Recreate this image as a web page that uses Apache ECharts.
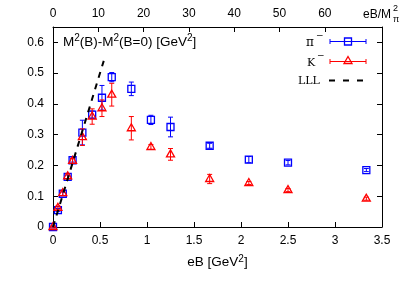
<!DOCTYPE html>
<html><head><meta charset="utf-8">
<script src="https://cdn.jsdelivr.net/npm/echarts@6/dist/echarts.min.js"></script>
<style>html,body{margin:0;padding:0;background:#fff}#c{width:407px;height:285px}</style>
</head><body><div id="c"></div>
<script>
// ---- data ----
const eB      = [0, 0.0521, 0.1042, 0.1563, 0.2083, 0.3125, 0.4167, 0.5208, 0.625, 0.8333, 1.0417, 1.25, 1.6667, 2.0833, 2.5, 3.3333];
const piVal   = [0, 0.055, 0.108, 0.163, 0.217, 0.307, 0.365, 0.420, 0.487, 0.449, 0.348, 0.325, 0.264, 0.219, 0.209, 0.185];
const piErr   = [0.003, 0.005, 0.006, 0.006, 0.006, 0.040, 0.012, 0.040, 0.015, 0.022, 0.015, 0.032, 0.008, 0.010, 0.007, 0.005];
const kVal    = [0, 0.062, 0.110, 0.165, 0.215, 0.292, 0.359, 0.386, 0.430, 0.321, 0.260, 0.236, 0.156, 0.143, 0.120, 0.092];
const kErr    = [0.003, 0.006, 0.008, 0.008, 0.008, 0.027, 0.025, 0.027, 0.037, 0.038, 0.008, 0.019, 0.015, 0.005, 0.005, 0.005];
const lllX    = [0, 0.54];
const lllY    = [0, 0.54];
const mpi2    = 0.0482;           // GeV^2, top-axis conversion
const xTicks  = [0, 0.5, 1, 1.5, 2, 2.5, 3, 3.5];
const x2Ticks = [0, 10, 20, 30, 40, 50, 60];
const yTicks  = [0, 0.1, 0.2, 0.3, 0.4, 0.5, 0.6];

const SANS = 'Liberation Sans, Arial, sans-serif';
const SERIF = 'DejaVu Serif, serif';
const BLUE = '#0000ff', RED = '#ff0000';

function errRender(color, shape){
  return function(params, api){
    const x = api.value(0), y = api.value(1), e = api.value(2);
    const c = api.coord([x, y]), t = api.coord([x, y + e]), b = api.coord([x, y - e]);
    const w = 2.5;
    const ls = {stroke: color, lineWidth: 1};
    const ch = [
      {type:'line', shape:{x1:c[0], y1:t[1], x2:c[0], y2:b[1]}, style:ls},
      {type:'line', shape:{x1:c[0]-w, y1:t[1], x2:c[0]+w, y2:t[1]}, style:ls},
      {type:'line', shape:{x1:c[0]-w, y1:b[1], x2:c[0]+w, y2:b[1]}, style:ls}
    ];
    if (shape === 'square') {
      ch.push({type:'rect', shape:{x:c[0]-3.5, y:c[1]-3.5, width:7, height:7}, style:{stroke:color, fill:'none', lineWidth:1.3}});
    } else {
      ch.push({type:'polygon', shape:{points:[[c[0], c[1]-4.5], [c[0]-4, c[1]+2.5], [c[0]+4, c[1]+2.5]]}, style:{stroke:color, fill:'none', lineWidth:1.3}});
    }
    return {type:'group', children: ch};
  };
}

const richSans = {
  a: {fontSize: 13.5, fontFamily: SANS, color: '#000', lineHeight: 17},
  s: {fontSize: 10, fontFamily: SANS, color: '#000', lineHeight: 11, verticalAlign: 'top'}
};
const axisCommon = {
  axisLine: {show: true, onZero: false, lineStyle: {color: '#000', width: 1}},
  splitLine: {show: false}
};

const option = {
  animation: false,
  backgroundColor: '#fff',
  grid: {left: 53, right: 25, top: 27, bottom: 58},
  xAxis: [
    Object.assign({
      type: 'value', min: 0, max: 3.5, position: 'bottom',
      axisTick: {inside: true, length: 5, lineStyle: {color: '#000'}, customValues: xTicks},
      axisLabel: {color: '#000', fontSize: 12, fontFamily: SANS, margin: 8, customValues: xTicks},
      name: '{a|eB [GeV}{s|2}{a|]}', nameLocation: 'middle', nameGap: 27,
      nameTextStyle: {rich: richSans}
    }, axisCommon),
    Object.assign({
      type: 'value', min: 0, max: 3.5 / mpi2, position: 'top',
      axisTick: {inside: true, length: 5, lineStyle: {color: '#000'}, customValues: x2Ticks},
      axisLabel: {color: '#000', fontSize: 12, fontFamily: SANS, margin: 7, customValues: x2Ticks}
    }, axisCommon)
  ],
  yAxis: [
    Object.assign({
      type: 'value', min: 0, max: 0.65, position: 'left',
      axisTick: {inside: true, length: 5, lineStyle: {color: '#000'}, customValues: yTicks},
      axisLabel: {color: '#000', fontSize: 12, fontFamily: SANS, margin: 9, customValues: yTicks}
    }, axisCommon),
    Object.assign({
      type: 'value', min: 0, max: 0.65, position: 'right',
      axisTick: {inside: true, length: 5, lineStyle: {color: '#000'}, customValues: yTicks},
      axisLabel: {show: false}
    }, axisCommon)
  ],
  series: [
    {type: 'custom', name: 'pi', xAxisIndex: 0, yAxisIndex: 0, clip: false, z: 2,
     renderItem: errRender(BLUE, 'square'),
     data: eB.map((x, i) => [x, piVal[i], piErr[i]])},
    {type: 'custom', name: 'K', xAxisIndex: 0, yAxisIndex: 0, clip: false, z: 3,
     renderItem: errRender(RED, 'triangle'),
     data: eB.map((x, i) => [x, kVal[i], kErr[i]])},
    {type: 'line', name: 'LLL', xAxisIndex: 0, yAxisIndex: 0, z: 4, symbol: 'none',
     lineStyle: {color: '#000', width: 2, type: [6, 6]},
     data: lllX.map((x, i) => [x, lllY[i]])}
  ],
  graphic: [
    // y-axis title inside plot
    {type: 'text', x: 63, y: 42, z: 10,
     style: {text: '{a|M}{s|2}{a|(B)-M}{s|2}{a|(B=0) [GeV}{s|2}{a|]}', rich: richSans,
             align: 'left', verticalAlign: 'middle', textAlign: 'left', textVerticalAlign: 'middle'}},
    // top-axis title
    {type: 'text', x: 363, y: 15, z: 10,
     style: {text: 'eB/M', font: '12px ' + SANS, fill: '#000', align: 'left', verticalAlign: 'middle', textAlign: 'left', textVerticalAlign: 'middle'}},
    {type: 'text', x: 393, y: 9, z: 10,
     style: {text: '2', font: '9px ' + SANS, fill: '#000', align: 'left', verticalAlign: 'middle', textAlign: 'left', textVerticalAlign: 'middle'}},
    {type: 'text', x: 393, y: 20, z: 10,
     style: {text: 'π', font: '9px ' + SANS, fill: '#000', align: 'left', verticalAlign: 'middle', textAlign: 'left', textVerticalAlign: 'middle'}},
    // legend: pi-
    {type: 'text', x: 306, y: 43, z: 10,
     style: {text: 'π', font: '12px ' + SERIF, fill: '#000', align: 'left', verticalAlign: 'middle', textAlign: 'left', textVerticalAlign: 'middle'}},
    {type: 'text', x: 316, y: 36, z: 10,
     style: {text: '−', font: '9px ' + SERIF, fill: '#000', align: 'left', verticalAlign: 'middle', textAlign: 'left', textVerticalAlign: 'middle'}},
    {type: 'line', z: 10, shape: {x1: 330, y1: 41.5, x2: 366, y2: 41.5}, style: {stroke: BLUE, lineWidth: 1}},
    {type: 'line', z: 10, shape: {x1: 330, y1: 39, x2: 330, y2: 44}, style: {stroke: BLUE, lineWidth: 1}},
    {type: 'line', z: 10, shape: {x1: 366, y1: 39, x2: 366, y2: 44}, style: {stroke: BLUE, lineWidth: 1}},
    {type: 'rect', z: 10, shape: {x: 344.5, y: 38, width: 7, height: 7}, style: {stroke: BLUE, fill: 'none', lineWidth: 1.3}},
    // legend: K-
    {type: 'text', x: 307, y: 63, z: 10,
     style: {text: 'K', font: '11px ' + SERIF, fill: '#000', align: 'left', verticalAlign: 'middle', textAlign: 'left', textVerticalAlign: 'middle'}},
    {type: 'text', x: 317, y: 56, z: 10,
     style: {text: '−', font: '9px ' + SERIF, fill: '#000', align: 'left', verticalAlign: 'middle', textAlign: 'left', textVerticalAlign: 'middle'}},
    {type: 'line', z: 10, shape: {x1: 330, y1: 61.5, x2: 366, y2: 61.5}, style: {stroke: RED, lineWidth: 1}},
    {type: 'line', z: 10, shape: {x1: 330, y1: 59, x2: 330, y2: 64}, style: {stroke: RED, lineWidth: 1}},
    {type: 'line', z: 10, shape: {x1: 366, y1: 59, x2: 366, y2: 64}, style: {stroke: RED, lineWidth: 1}},
    {type: 'polygon', z: 10, shape: {points: [[348, 56.5], [344, 63.5], [352, 63.5]]}, style: {stroke: RED, fill: 'none', lineWidth: 1.3}},
    // legend: LLL
    {type: 'text', x: 298, y: 81, z: 10,
     style: {text: 'LLL', font: '11px ' + SERIF, fill: '#000', align: 'left', verticalAlign: 'middle', textAlign: 'left', textVerticalAlign: 'middle'}},
    {type: 'line', z: 10, shape: {x1: 329, y1: 80.5, x2: 366, y2: 80.5}, style: {stroke: '#000', lineWidth: 2, lineDash: [6, 8]}}
  ]
};
const chart = echarts.init(document.getElementById('c'), null, {renderer: 'canvas'});
chart.setOption(option);
</script>
</body></html>
